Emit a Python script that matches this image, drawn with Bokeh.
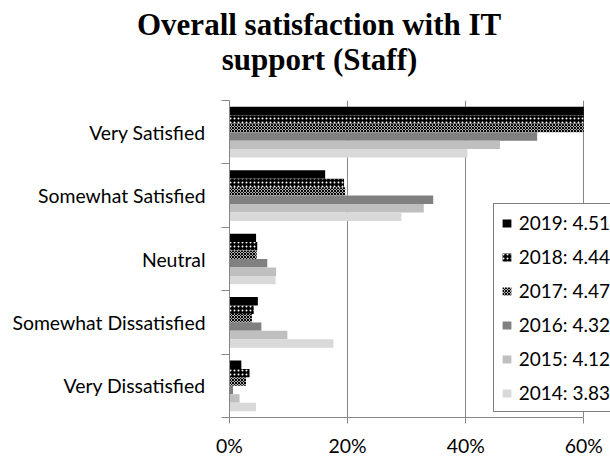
from bokeh.plotting import figure
from bokeh.models import Range1d, FixedTicker, Legend, LegendItem, Title
from bokeh.embed import file_html
from bokeh.resources import INLINE

# ---- data -------------------------------------------------------------
categories = ["Very Satisfied", "Somewhat Satisfied", "Neutral",
              "Somewhat Dissatisfied", "Very Dissatisfied"]
years = ["2019", "2018", "2017", "2016", "2015", "2014"]
mean_scores = ["4.51", "4.44", "4.47", "4.32", "4.12", "3.83"]
pct_2019 = [72.5, 16.2, 4.5, 4.8, 2.0]
pct_2018 = [68.4, 19.4, 4.7, 4.1, 3.4]
pct_2017 = [69.2, 19.6, 4.6, 3.8, 2.8]
pct_2016 = [52.1, 34.5, 6.4, 5.4, 0.6]
pct_2015 = [45.8, 32.9, 7.9, 9.8, 1.7]
pct_2014 = [40.3, 29.1, 7.8, 17.6, 4.5]
x_ticks = [0, 20, 40, 60]
x_tick_labels = ["0%", "20%", "40%", "60%"]
axis_max = 60
title_lines = ["Overall satisfaction with IT", "support (Staff)"]

series = [pct_2019, pct_2018, pct_2017, pct_2016, pct_2015, pct_2014]

# ---- styles -----------------------------------------------------------
styles = [
    dict(fill_color="black"),
    dict(fill_color="black", hatch_pattern="dot", hatch_color="white",
         hatch_scale=4, hatch_weight=1.5),
    dict(fill_color="white", hatch_pattern="x", hatch_color="black",
         hatch_scale=3, hatch_weight=1.2),
    dict(fill_color="#808080"),
    dict(fill_color="#bfbfbf"),
    dict(fill_color="#d9d9d9"),
]

LABEL_FONT = "Lato"
LABEL_SIZE = "19.4px"
LEGEND_SIZE = "19px"
GRAY = "#868686"

W, H = 610, 459
FRAME_LEFT = 229
PX_PER_UNIT = (583.3 - 229) / 60.0
x_view_max = (W - FRAME_LEFT) / PX_PER_UNIT   # frame runs to the right edge

n = len(categories)
p = figure(width=W, height=H, output_backend="svg", toolbar_location=None,
           x_range=Range1d(0, x_view_max), y_range=Range1d(0, n),
           min_border_left=FRAME_LEFT, min_border_right=0,
           min_border_top=100, min_border_bottom=30)
p.outline_line_color = None
p.background_fill_color = "white"
p.border_fill_color = "white"

centers = [n - i - 0.5 for i in range(n)]
bh = 0.8 / len(years)
items = []
for j, (yr, vals, st) in enumerate(zip(years, series, styles)):
    ys = [c + (2.5 - j) * bh for c in centers]
    rights = [min(v, axis_max) for v in vals]   # bars clipped at the axis maximum
    r = p.hbar(y=ys, left=0, right=rights, height=bh, line_color=None, **st)
    items.append(LegendItem(label=f"{yr}: {mean_scores[j]}", renderers=[r]))

# ---- axes -------------------------------------------------------------
ya = p.yaxis[0]
ya.ticker = FixedTicker(ticks=centers, minor_ticks=list(range(n + 1)))
ya.major_label_overrides = {c: name for c, name in zip(centers, categories)}
ya.major_tick_out = 0
ya.major_tick_in = 0
ya.minor_tick_out = 8
ya.minor_tick_in = 0
ya.minor_tick_line_color = GRAY
ya.axis_line_color = GRAY
ya.major_label_standoff = 16
ya.major_label_text_font = LABEL_FONT
ya.major_label_text_font_size = LABEL_SIZE
ya.major_label_text_color = "black"

xa = p.xaxis[0]
xa.ticker = FixedTicker(ticks=x_ticks)
xa.bounds = (0, axis_max)
xa.major_label_overrides = {t: s for t, s in zip(x_ticks, x_tick_labels)}
xa.major_tick_out = 6
xa.major_tick_in = 0
xa.minor_tick_line_color = None
xa.major_tick_line_color = GRAY
xa.axis_line_color = GRAY
xa.major_label_standoff = 10
xa.major_label_text_font = LABEL_FONT
xa.major_label_text_font_size = LABEL_SIZE
xa.major_label_text_color = "black"

p.ygrid.grid_line_color = None
p.xgrid.ticker = FixedTicker(ticks=x_ticks)
p.xgrid.grid_line_color = GRAY
p.xgrid.grid_line_width = 1

# ---- legend -----------------------------------------------------------
legend = Legend(items=items, location=(263.7, 5), margin=0, padding=7,
                glyph_width=11, glyph_height=10, label_standoff=7,
                label_height=23, spacing=11,
                label_text_font=LABEL_FONT, label_text_font_size=LEGEND_SIZE,
                label_text_color="black",
                border_line_color="black", border_line_width=1.5,
                background_fill_color="white", background_fill_alpha=1)
p.add_layout(legend, "center")

# ---- title (two lines, centred over the whole chart) -------------------
p.add_layout(Title(text=title_lines[1], align="left", offset=-7.7, standoff=48,
                   text_font="Liberation Serif", text_font_style="bold",
                   text_font_size="31px", text_color="black"), "above")
p.add_layout(Title(text=title_lines[0], align="left", offset=-92.5, standoff=-52,
                   text_font="Liberation Serif", text_font_style="bold",
                   text_font_size="31px", text_color="black"), "above")

html = file_html(p, INLINE)
html = html.replace("</head>", "<style>html,body{overflow:hidden;}</style></head>", 1)
open("out.html", "w").write(html)
